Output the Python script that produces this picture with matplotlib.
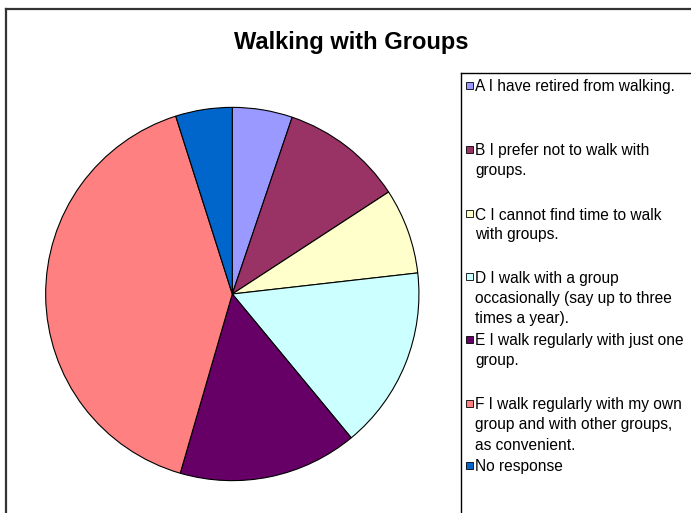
import matplotlib
matplotlib.use("Agg")
import matplotlib.pyplot as plt
from matplotlib.patches import Rectangle
from matplotlib.lines import Line2D

plt.rcParams['font.family'] = ['Liberation Sans', 'DejaVu Sans']

# data (percent of responses)
labels = [
    "A I have retired from walking.",
    "B I prefer not to walk with\ngroups.",
    "C I cannot find time to walk\nwith groups.",
    "D I walk with a group\noccasionally (say up to three\ntimes a year).",
    "E I walk regularly with just one\ngroup.",
    "F I walk regularly with my own\ngroup and with other groups,\nas convenient.",
    "No response",
]
values = [5.2, 10.6, 7.4, 15.8, 15.5, 40.6, 4.9]
colors = ["#9999FF", "#993366", "#FFFFCC", "#CCFFFF", "#660066", "#FF8080", "#0066CC"]

W, H = 691, 513
fig = plt.figure(figsize=(W / 100, H / 100), dpi=100)

def px(x, y):
    # pixel coords (top-left origin) -> figure fraction
    return x / W, 1 - y / H

# pie, centre (232, 294), radius ~188 px
cx, cy, r = 232.3, 294, 188.5
ax = fig.add_axes([(cx - r) / W, (H - cy - r) / H, 2 * r / W, 2 * r / H])
ax.pie(values, colors=colors, startangle=90, counterclock=False, radius=1,
       wedgeprops=dict(edgecolor="black", linewidth=0.8))
ax.set_xlim(-1.01, 1.01)
ax.set_ylim(-1.01, 1.01)
ax.set_aspect("equal")
ax.axis("off")

# chart area frame (cropped on right and bottom)
x0, y0 = px(6, 8.5)
fig.add_artist(Line2D([x0, x0], [y0, 0], transform=fig.transFigure, color="#333333", lw=1.6))
fig.add_artist(Line2D([x0, 1], [y0, y0], transform=fig.transFigure, color="#333333", lw=1.6))

# title
tx, ty = px(351, 42)
fig.text(tx, ty, "Walking with Groups", ha="center", va="center",
         fontsize=17, fontweight="bold")

# legend box
lx, ly = px(460.5, 72.5)
fig.add_artist(Line2D([lx, lx], [ly, 0], transform=fig.transFigure, color="black", lw=1))
fig.add_artist(Line2D([lx, 1], [ly, ly], transform=fig.transFigure, color="black", lw=1))

entry_y = [86, 150, 214, 277, 340, 404, 466]
for lab, col, yc in zip(labels, colors, entry_y):
    mx, my = px(466, yc + 3)
    fig.add_artist(Rectangle((mx, my), 7 / W, 7 / H, transform=fig.transFigure,
                             facecolor=col, edgecolor="black", lw=0.6))
    for k, line in enumerate(lab.split("\n")):
        bx, by = px(475, yc + 5.5 + 20 * k)
        fig.text(bx, by, line, ha="left", va="baseline", fontsize=11.2)

fig.savefig("out.png", dpi=100)
